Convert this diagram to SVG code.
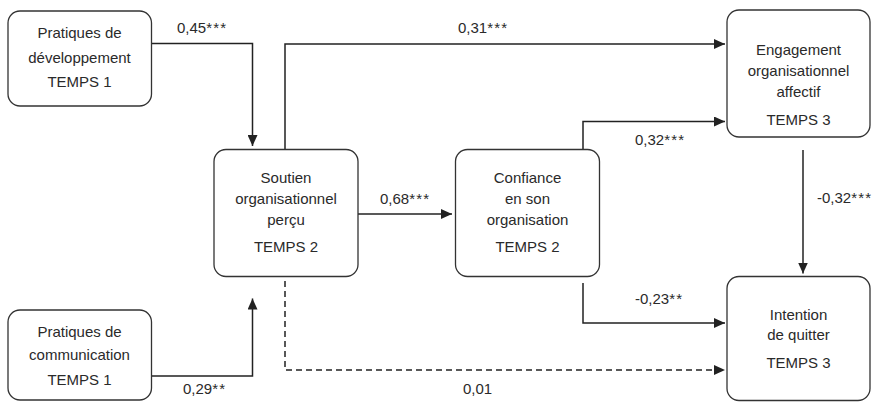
<svg xmlns="http://www.w3.org/2000/svg" width="873" height="402" viewBox="0 0 873 402">
<defs>
<style>
.box{fill:#fff;stroke:#333;stroke-width:1.3}
.t{font-family:"Liberation Sans",Arial,sans-serif;font-size:15px;fill:#2a2a2a;text-anchor:middle}
.l{font-family:"Liberation Sans",Arial,sans-serif;font-size:15px;fill:#2a2a2a}
.s{letter-spacing:1.2px}
.c{fill:none;stroke:#222;stroke-width:1.5}
.d{fill:none;stroke:#222;stroke-width:1.5;stroke-dasharray:6 4}
</style>
<marker id="ah" markerUnits="userSpaceOnUse" markerWidth="12" markerHeight="10" refX="11" refY="5" orient="auto">
<path d="M0,0 L11,5 L0,10 Z" fill="#222"/>
</marker>
</defs>
<rect width="873" height="402" fill="#fff"/>
<g id="connectors">
<path class="c" d="M152,43.5 H252.5 V146" marker-end="url(#ah)"/>
<path class="c" d="M152,376 H252.5 V298.5" marker-end="url(#ah)"/>
<path class="c" d="M285,149 V44 H725" marker-end="url(#ah)"/>
<path class="c" d="M358,214 H452" marker-end="url(#ah)"/>
<path class="c" d="M583,149 V121.5 H725" marker-end="url(#ah)"/>
<path class="c" d="M583,283 V323 H725" marker-end="url(#ah)"/>
<path class="c" d="M803,150 V273.5" marker-end="url(#ah)"/>
<path class="d" d="M285,281 V370 H725" marker-end="url(#ah)"/>
<text class="l" x="177" y="33">0,45<tspan class="s">***</tspan></text>
<text class="l" x="458" y="33">0,31<tspan class="s">***</tspan></text>
<text class="l" x="380" y="204">0,68<tspan class="s">***</tspan></text>
<text class="l" x="635" y="145">0,32<tspan class="s">***</tspan></text>
<text class="l" x="817" y="203">-0,32<tspan class="s">***</tspan></text>
<text class="l" x="635" y="304">-0,23<tspan class="s">**</tspan></text>
<text class="l" x="463" y="394">0,01</text>
<text class="l" x="183" y="394">0,29<tspan class="s">**</tspan></text>
</g>
<g id="dev">
<rect class="box" x="8" y="11" width="143.5" height="95" rx="12"/>
<text class="t" x="79.5" y="38">Pratiques de</text>
<text class="t" x="79.5" y="63">développement</text>
<text class="t" x="79.5" y="87">TEMPS 1</text>
</g>
<g id="comm">
<rect class="box" x="8" y="310" width="143.5" height="90" rx="12"/>
<text class="t" x="79.5" y="337">Pratiques de</text>
<text class="t" x="79.5" y="360">communication</text>
<text class="t" x="79.5" y="385">TEMPS 1</text>
</g>
<g id="soutien">
<rect class="box" x="214" y="149.5" width="144" height="127" rx="12"/>
<text class="t" x="286" y="183">Soutien</text>
<text class="t" x="286" y="204">organisationnel</text>
<text class="t" x="286" y="225">perçu</text>
<text class="t" x="286" y="252">TEMPS 2</text>
</g>
<g id="confiance">
<rect class="box" x="455.5" y="149.5" width="144" height="127" rx="12"/>
<text class="t" x="527.5" y="183">Confiance</text>
<text class="t" x="527.5" y="203.5">en son</text>
<text class="t" x="527.5" y="225">organisation</text>
<text class="t" x="527.5" y="252">TEMPS 2</text>
</g>
<g id="engagement">
<rect class="box" x="727" y="10" width="143" height="127" rx="12"/>
<text class="t" x="798.5" y="55">Engagement</text>
<text class="t" x="798.5" y="76">organisationnel</text>
<text class="t" x="798.5" y="97">affectif</text>
<text class="t" x="798.5" y="125">TEMPS 3</text>
</g>
<g id="intention">
<rect class="box" x="727" y="276.5" width="143" height="124" rx="12"/>
<text class="t" x="798.5" y="320">Intention</text>
<text class="t" x="798.5" y="340">de quitter</text>
<text class="t" x="798.5" y="368">TEMPS 3</text>
</g>
</svg>
